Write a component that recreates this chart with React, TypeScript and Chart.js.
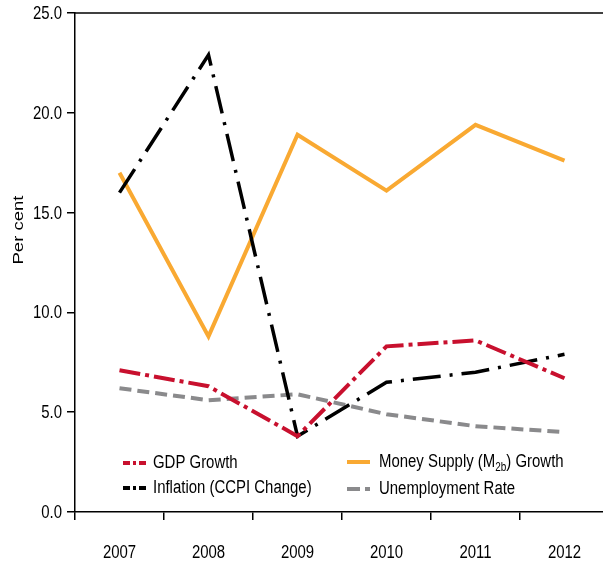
import React, { useEffect, useRef } from "react";
import { Chart, registerables } from "chart.js";

Chart.register(...registerables);

// ---- Data ----
const categories = ["2007", "2008", "2009", "2010", "2011", "2012"];
const gdpGrowth = [7.1, 6.3, 3.8, 8.3, 8.6, 6.7];
const inflation = [16.0, 22.9, 3.8, 6.5, 7.0, 7.9];
const moneySupply = [17.0, 8.8, 18.9, 16.1, 19.4, 17.6];
const unemployment = [6.2, 5.6, 5.9, 4.9, 4.3, 4.0];
const yTicks = [0, 5, 10, 15, 20, 25];
const yTitle = "Per cent";

const FONT = "'Liberation Sans', Arial, sans-serif";
const SX = 0.83; // horizontal condensing of the reference's text
const RED = "#C8102E";
const BLACK = "#000000";
const ORANGE = "#F9A932";
const GRAY = "#8A8A8C";

function drawText(
  ctx: CanvasRenderingContext2D,
  text: string,
  x: number,
  y: number,
  align: CanvasTextAlign,
  size: number
): number {
  ctx.save();
  ctx.font = `${size}px ${FONT}`;
  ctx.fillStyle = "#000";
  ctx.textAlign = align;
  ctx.textBaseline = "middle";
  ctx.translate(x, y);
  ctx.scale(SX, 1);
  ctx.fillText(text, 0, 0);
  const w = ctx.measureText(text).width * SX;
  ctx.restore();
  return w;
}

const overlayPlugin = {
  id: "overlay",
  afterDraw(chart: any) {
    const { ctx, chartArea } = chart;
    ctx.save();
    // top frame line
    ctx.strokeStyle = "#000";
    ctx.lineWidth = 1.5;
    ctx.setLineDash([]);
    ctx.beginPath();
    ctx.moveTo(chartArea.left, chartArea.top);
    ctx.lineTo(chart.width, chartArea.top);
    ctx.stroke();

    // y tick labels
    const ys = chart.scales.y;
    ys.ticks.forEach((t: any) => {
      const py = ys.getPixelForValue(t.value);
      drawText(ctx, Number(t.value).toFixed(1), chartArea.left - 13, py + 1, "right", 18);
    });
    // x tick labels
    const xs = chart.scales.x;
    categories.forEach((c, i) => {
      const px = xs.getPixelForValue(i);
      drawText(ctx, c, px, chartArea.bottom + 41, "center", 18);
    });

    // y title (rotated)
    ctx.save();
    ctx.translate(19, 230);
    ctx.rotate(-Math.PI / 2);
    ctx.scale(1.03, SX);
    ctx.font = `18px ${FONT}`;
    ctx.fillStyle = "#000";
    ctx.textAlign = "center";
    ctx.textBaseline = "middle";
    ctx.fillText(yTitle, 0, 0);
    ctx.restore();

    // legend
    const items = [
      { ds: 0, kind: "dashdot", x: 123, y: 463, tx: 153 },
      { ds: 1, kind: "dashdot", x: 123, y: 488, tx: 153 },
      { ds: 2, kind: "solid", x: 347, y: 462, tx: 379 },
      { ds: 3, kind: "dash", x: 347, y: 489, tx: 379 },
    ];
    items.forEach((it) => {
      const d = chart.data.datasets[it.ds];
      ctx.strokeStyle = d.borderColor;
      ctx.lineWidth = 4;
      ctx.lineCap = "butt";
      if (it.kind === "dashdot") ctx.setLineDash([7, 3, 3, 3]);
      else if (it.kind === "dash") ctx.setLineDash([13, 5]);
      else ctx.setLineDash([]);
      ctx.beginPath();
      ctx.moveTo(it.x, it.y);
      ctx.lineTo(it.x + 23, it.y);
      ctx.stroke();
      ctx.setLineDash([]);

      const label: string = d.label;
      const m = label.match(/^(.*\(M)(2b)(\).*)$/);
      if (m) {
        let x = it.tx;
        x += drawText(ctx, m[1], x, it.y, "left", 18);
        x += drawText(ctx, m[2], x, it.y + 6, "left", 12);
        drawText(ctx, m[3], x, it.y, "left", 18);
      } else {
        drawText(ctx, label, it.tx, it.y, "left", 18);
      }
    });
    ctx.restore();
  },
};

export default function App() {
  const ref = useRef<HTMLCanvasElement>(null);

  useEffect(() => {
    if (!ref.current) return;
    const chart = new Chart(ref.current, {
      type: "line",
      data: {
        labels: categories,
        datasets: [
          {
            label: "GDP Growth",
            data: gdpGrowth,
            borderColor: RED,
            backgroundColor: RED,
            borderWidth: 4,
            borderDash: [21, 5, 4, 5],
            pointRadius: 0,
            tension: 0,
          },
          {
            label: "Inflation (CCPI Change)",
            data: inflation,
            borderColor: BLACK,
            backgroundColor: BLACK,
            borderWidth: 3.5,
            borderDash: [28, 9, 3, 9],
            pointRadius: 0,
            tension: 0,
          },
          {
            label: "Money Supply (M2b) Growth",
            data: moneySupply,
            borderColor: ORANGE,
            backgroundColor: ORANGE,
            borderWidth: 4,
            pointRadius: 0,
            tension: 0,
          },
          {
            label: "Unemployment Rate",
            data: unemployment,
            borderColor: GRAY,
            backgroundColor: GRAY,
            borderWidth: 4,
            borderDash: [12, 6],
            pointRadius: 0,
            tension: 0,
          },
        ],
      },
      options: {
        animation: false,
        responsive: false,
        devicePixelRatio: 1,
        layout: { padding: { top: 13, right: 0, left: 0, bottom: 0 } },
        plugins: {
          legend: { display: false },
          tooltip: { enabled: false },
        },
        scales: {
          x: {
            offset: true,
            grid: {
              offset: true,
              drawOnChartArea: false,
              drawTicks: true,
              tickLength: 8,
              color: "#000",
              lineWidth: 1.5,
            },
            border: { display: true, color: "#000", width: 1.5 },
            ticks: { display: false, autoSkip: false },
            afterFit: (s: any) => {
              s.height = 55;
            },
          },
          y: {
            min: 0,
            max: 25,
            afterBuildTicks: (s: any) => {
              s.ticks = yTicks.map((v) => ({ value: v }));
            },
            grid: {
              drawOnChartArea: false,
              drawTicks: true,
              tickLength: 8,
              color: "#000",
              lineWidth: 1.5,
            },
            border: { display: true, color: "#000", width: 1.5 },
            ticks: { display: false },
            afterFit: (s: any) => {
              s.width = 75;
            },
          },
        },
      },
      plugins: [overlayPlugin],
    });
    return () => chart.destroy();
  }, []);

  return (
    <div style={{ position: "fixed", left: 0, top: 0, width: 603, height: 567, overflow: "hidden", background: "#fff" }}>
      <canvas ref={ref} width={609} height={567} style={{ display: "block" }} />
    </div>
  );
}
